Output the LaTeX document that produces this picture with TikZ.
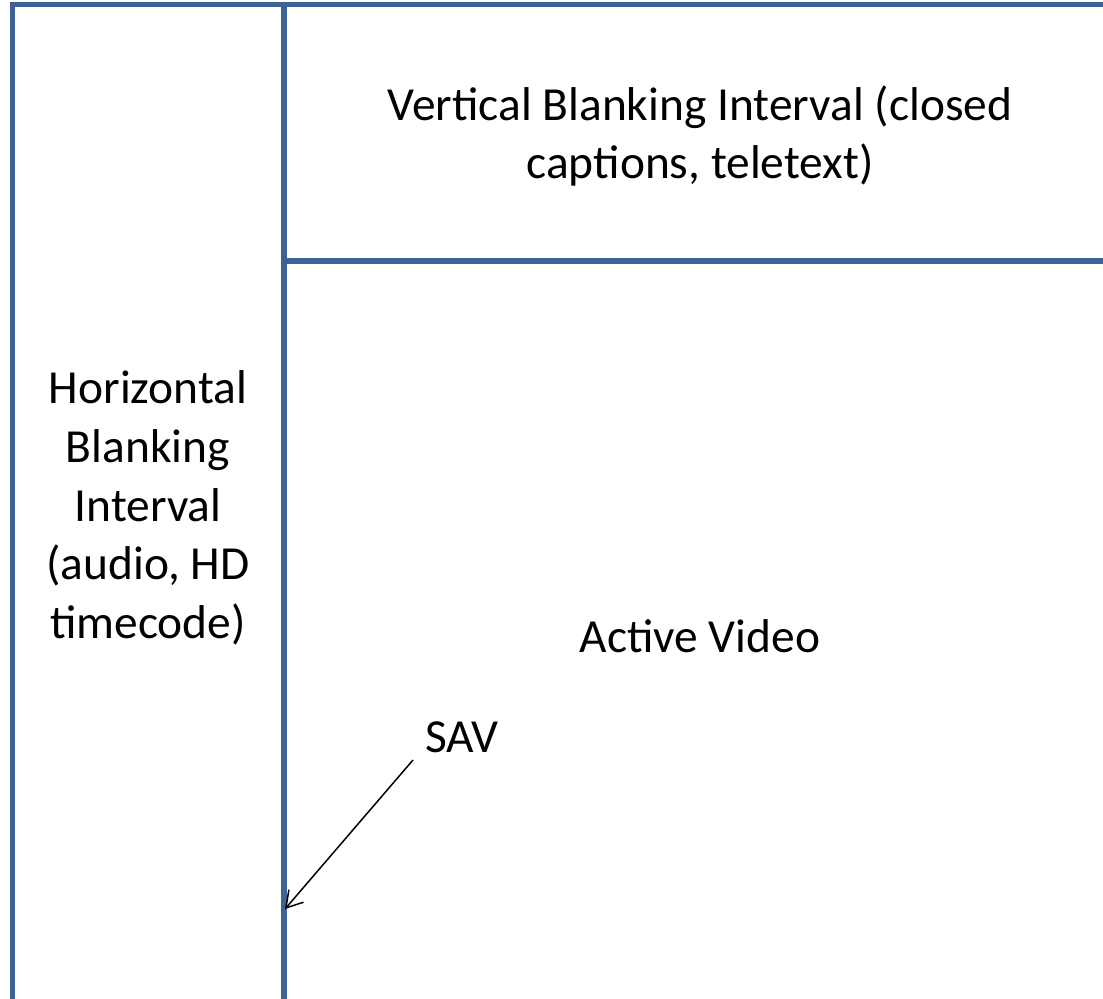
\documentclass[tikz,border=0pt]{standalone}
\usepackage{fontspec}
\setmainfont{Carlito}
\usepackage{tikz}
\usetikzlibrary{arrows.meta}
\definecolor{framecol}{HTML}{3F6296}

\begin{document}
\begin{tikzpicture}[x=0.02cm,y=-0.02cm]
	\tikzset{
		frameline/.style={draw=framecol,line width=3.1pt},
		%
		label/.style={align=center,inner sep=0,font=\fontsize{27}{33.4}\selectfont},
		pointer/.style={draw=black,line width=0.85pt,-{Straight Barb[length=9pt,width=11pt]}}
	}
	
	\useasboundingbox (0,0) rectangle (1103,999);
	
	\begin{scope}
	\clip (0,0) rectangle (1103,999);
	\draw[frameline] (12.5,1040) -- (12.5,4.5) -- (1140,4.5);
	\draw[frameline] (284,1040) -- (284,4.5);
	\draw[frameline] (284,261) -- (1140,261);
	\end{scope}
	
	\node[label] (vbi) at (700,136) {Vertical Blanking Interval (closed\\captions, teletext)};
	\node[label] (hbi) at (148,508) {Horizontal\\Blanking\\Interval\\(audio, HD\\timecode)};
	\node[label] (active) at (700,636) {Active Video};
	\node[label] (sav) at (462,737) {SAV};
	
	\coordinate (savtail) at (413,760);
	\coordinate (savhead) at (285,909);
	\draw[pointer] (savtail) -- (savhead);
	
\end{tikzpicture}
\end{document}
